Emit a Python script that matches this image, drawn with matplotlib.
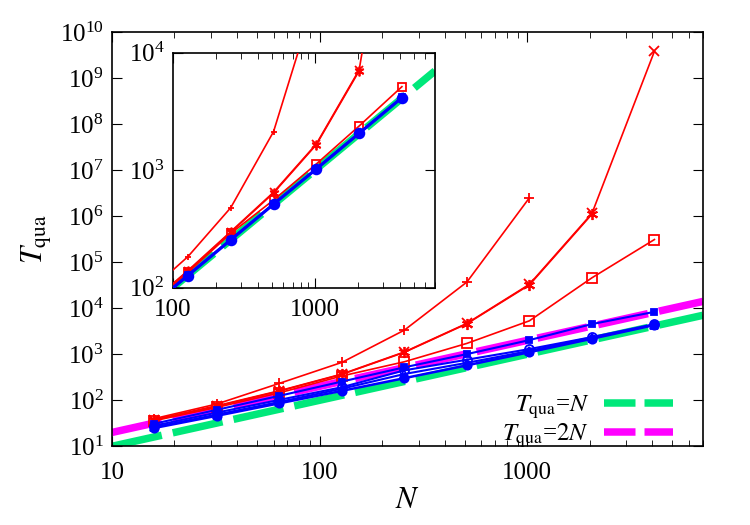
import matplotlib
matplotlib.use("Agg")
import matplotlib.pyplot as plt
from matplotlib.lines import Line2D
from matplotlib.ticker import LogLocator, NullFormatter, FixedLocator, FixedFormatter, NullLocator
import numpy as np

plt.rcParams['font.family'] = ['Liberation Serif', 'DejaVu Serif']
plt.rcParams['mathtext.fontset'] = 'stix'
plt.rcParams['font.size'] = 18

# ---------------- data (main panel) ----------------
N = [16, 32, 64, 128, 256, 512, 1024, 2048, 4096]
red_plus = [40, 83, 233, 665, 3340, 37000, 2.5e6]              # N = 16..1024
red_x = [38, 76, 161, 371, 1120, 4680, 33000, 1.14e6, 3.8e9]   # N = 16..4096
red_star = [37, 74, 158, 365, 1100, 4600, 32000, 1.1e6]        # N = 16..2048
red_square = [36, 70, 145, 337, 686, 1720, 5320, 45700, 3.1e5]  # N = 16..4096
blue_fsquare = [31, 62, 125, 255, 520, 1007, 2028, 4520, 8320]
blue_ocircle = [28, 54, 102, 192, 447, 760, 1295, 2355, 4505]
blue_otri = [26, 49, 92, 178, 372, 650, 1180, 2250, 4400]
blue_fcircle = [25, 46, 86, 160, 302, 573, 1106, 2170, 4300]

# ---------------- data (inset) ----------------
Ni = [64, 128, 256, 512, 1024, 2048, 4096]
in_plus = [87, 184, 480, 2130, 32000]
in_x = [68, 140, 300, 649, 1672, 7130, 1e6]
in_star = [67, 138, 296, 640, 1650, 7000]
in_square = [66, 135, 290, 557, 1130, 2377, 5140]
in_fsquare = [64, 128, 257, 516, 1030, 2070, 4160]
in_fcircle = [63, 127, 255, 513, 1024, 2060, 4140]

ref_x = [10, 7000]
ref1 = [10, 7000]       # T = N
ref2 = [20, 14000]      # T = 2N

GREEN = '#00e87a'
MAGENTA = '#ff00ff'
RED = '#ff0000'
BLUE = '#0000ff'

fig = plt.figure(figsize=(7.5, 5.25), dpi=100)
ax = fig.add_axes([0.1493, 0.1499, 0.7877, 0.7892])

ref_lw = 5.4
ax.plot(ref_x, ref1, color=GREEN, lw=ref_lw, dashes=(6.8, 1.5), zorder=1)
ax.plot(ref_x, ref2, color=MAGENTA, lw=ref_lw, dashes=(6.8, 1.5), zorder=1)

def rp(a, xs, ys, marker, mfc, ms, lw=1.2, color=RED, mew=1.3):
    a.plot(xs[:len(ys)], ys, color=color, lw=lw, marker=marker, ms=ms,
           mfc=mfc, mec=color, mew=mew, zorder=3)

rp(ax, N, red_plus, '+', RED, 7)
rp(ax, N, red_x, 'x', RED, 7)
rp(ax, N, red_star, (6, 2, 0), RED, 8)
rp(ax, N, red_square, 's', 'none', 6.5)
rp(ax, N, blue_fcircle, 'o', BLUE, 6, lw=1.8, color=BLUE)
rp(ax, N, blue_otri, '^', 'none', 6, lw=1.5, color=BLUE)
rp(ax, N, blue_ocircle, 'o', 'none', 6.5, lw=1.5, color=BLUE)
rp(ax, N, blue_fsquare, 's', BLUE, 5, lw=1.5, color=BLUE)

ax.set_xscale('log')
ax.set_yscale('log')
ax.set_xlim(10, 7000)
ax.set_ylim(10, 1e10)
ax.xaxis.set_major_locator(FixedLocator([10, 100, 1000]))
ax.xaxis.set_major_formatter(FixedFormatter(['10', '100', '1000']))
ax.xaxis.set_minor_locator(LogLocator(base=10, subs=np.arange(2, 10)))
ax.xaxis.set_minor_formatter(NullFormatter())
ax.yaxis.set_major_locator(LogLocator(base=10, numticks=20))
ax.yaxis.set_minor_locator(NullLocator())
ax.tick_params(which='both', direction='in', top=True, right=True)
ax.tick_params(which='major', length=7, width=0.8, pad=11)
ax.tick_params(which='minor', length=4, width=0.6)
ax.tick_params(axis='y', pad=6)
for s in ax.spines.values():
    s.set_linewidth(1.2)

ax.set_xlabel(r'$N$', fontsize=22, labelpad=2)
ax.set_ylabel(r'$T_{\rm qua}$', fontsize=22, labelpad=4)

h1 = Line2D([], [], color=GREEN, lw=ref_lw, dashes=(4.2, 1.2))
h2 = Line2D([], [], color=MAGENTA, lw=ref_lw, dashes=(4.2, 1.2))
ax.legend([h1, h2], [r'$T_{\rm qua}$=$N$', r'$T_{\rm qua}$=$2N$'],
          loc='lower right', bbox_to_anchor=(0.967, -0.033), frameon=False,
          markerfirst=False, handlelength=2.76, handletextpad=0.6,
          labelspacing=0.05, borderaxespad=0.0, fontsize=18)

# ---------------- inset ----------------
ins = fig.add_axes([0.2303, 0.452, 0.3497, 0.4476])
ins.plot(ref_x, ref1, color=GREEN, lw=ref_lw, dashes=(6.8, 1.5), zorder=1)
rp(ins, Ni, in_plus, '+', RED, 5)
rp(ins, Ni, in_x, 'x', RED, 6)
rp(ins, Ni, in_star, (6, 2, 0), RED, 7)
rp(ins, Ni, in_square, 's', 'none', 6)
rp(ins, Ni, in_fsquare, 's', BLUE, 5, lw=1.8, color=BLUE)
rp(ins, Ni, in_fcircle, 'o', BLUE, 7, lw=2.2, color=BLUE)
ins.set_xscale('log')
ins.set_yscale('log')
ins.set_xlim(100, 7000)
ins.set_ylim(100, 1e4)
ins.xaxis.set_major_locator(FixedLocator([100, 1000]))
ins.xaxis.set_major_formatter(FixedFormatter(['100', '1000']))
ins.xaxis.set_minor_locator(LogLocator(base=10, subs=np.arange(2, 10)))
ins.xaxis.set_minor_formatter(NullFormatter())
ins.yaxis.set_major_locator(LogLocator(base=10, numticks=10))
ins.yaxis.set_minor_locator(NullLocator())
ins.tick_params(which='both', direction='in', top=True, right=True)
ins.tick_params(which='major', length=7, width=0.8, pad=8)
ins.tick_params(which='minor', length=4, width=0.6)
ins.tick_params(axis='y', pad=6)
for s in ins.spines.values():
    s.set_linewidth(1.2)

fig.savefig('out.png', dpi=100)
